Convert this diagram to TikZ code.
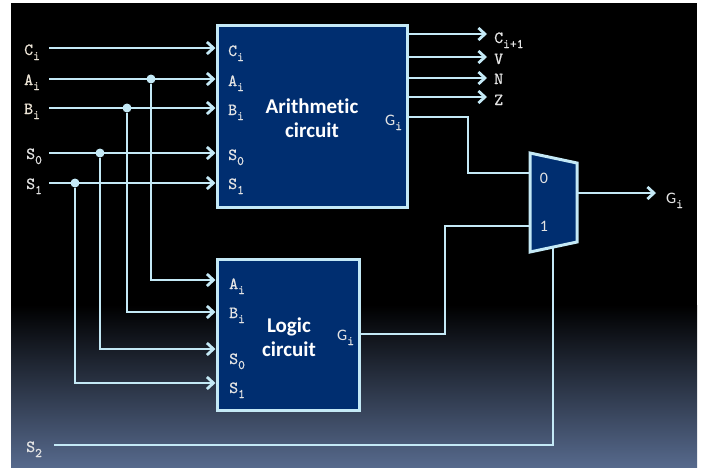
\documentclass[tikz,border=0pt]{standalone}
\usepackage{fontspec}
\newfontfamily\calfont[Ligatures=NoCommon]{Carlito}
\newfontfamily\mymono[Extension=.otf,FakeBold=0.7]{lmmono10-regular}
\usetikzlibrary{arrows.meta}
\definecolor{wirec}{RGB}{196,233,246}
\definecolor{boxfill}{RGB}{0,46,112}
\definecolor{bgbot}{RGB}{86,105,140}
\definecolor{labc}{RGB}{228,228,228}
\definecolor{labw}{RGB}{236,228,214}
\newcommand\sbx[1]{\raisebox{-5pt}{\fontsize{13}{13}\selectfont #1}}
\tikzset{
  wire/.style={draw=wirec, line width=2.8pt, line join=miter},
  arr/.style={wire, -{Straight Barb[length=6.5pt,width=12pt]}},
  blk/.style={draw=wirec, fill=boxfill, line width=3pt, inner sep=0pt},
  lbl/.style={text=labc, inner sep=0pt, font=\fontsize{17}{20}\selectfont\mymono},
  llbl/.style={lbl, text=labw},
  gl/.style={text=labc, inner sep=0pt, font=\fontsize{16}{18}\selectfont\calfont},
  title/.style={text=white, align=center, inner sep=0pt, font=\fontsize{21}{24}\selectfont\calfont\bfseries},
  dot/.style={circle, fill=wirec, inner sep=0pt, minimum size=9pt},
}
\begin{document}
\begin{tikzpicture}[x=1pt,y=-1pt]
\useasboundingbox (0,0) rectangle (703,467);
\fill[white] (0,0) rectangle (703,467);
\fill[black] (11,3) rectangle (697,306);
\shade[top color=black, bottom color=bgbot] (11,305) rectangle (697,467);

% blocks
\node[blk, minimum width=190pt, minimum height=182pt] (arith) at (312,116) {};
\node[blk, minimum width=142pt, minimum height=151pt] (logic) at (288,334.5) {};
\node[title] (atext) at (312,118) {Arithmetic\\circuit};
\node[title] (ltext) at (289,337) {Logic\\circuit};

% mux
\draw[blk] (530,153) -- (577,163) -- (577,242) -- (530,252) -- cycle;
\coordinate (mux0) at (530,173);
\coordinate (mux1) at (530,226);
\coordinate (muxout) at (577,193);
\coordinate (muxsel) at (553,247);
\node[gl, anchor=base] (m0) at (544,183) {0};
\node[gl, anchor=base] (m1) at (544,231) {1};

% left labels
\node[llbl, anchor=base west] (lc) at (24,55) {C\sbx{i}};
\node[llbl, anchor=base west] (la) at (24,85) {A\sbx{i}};
\node[llbl, anchor=base west] (lb) at (24,114) {B\sbx{i}};
\node[lbl, anchor=base west] (ls0) at (26,159) {S\sbx{0}};
\node[lbl, anchor=base west] (ls1) at (26,189) {S\sbx{1}};
\node[lbl, anchor=base west] (ls2) at (26,452) {S\sbx{2}};
\coordinate (sc) at (49,48);
\coordinate (sa) at (49,79);
\coordinate (sb) at (49,108);
\coordinate (ss0) at (49,153);
\coordinate (ss1) at (49,183);
\coordinate (ss2) at (54,445);

% arith inner labels
\node[lbl, anchor=base west] (ac) at (228,56) {C\sbx{i}};
\node[lbl, anchor=base west] (aa) at (228,86) {A\sbx{i}};
\node[lbl, anchor=base west] (ab) at (228,115) {B\sbx{i}};
\node[lbl, anchor=base west] (as0) at (228,160) {S\sbx{0}};
\node[lbl, anchor=base west] (as1) at (228,189) {S\sbx{1}};
\node[gl, anchor=base west] (ag) at (385,125) {G\sbx{\mymono i}};

% logic inner labels
\node[lbl, anchor=base west] (xa) at (229,289) {A\sbx{i}};
\node[lbl, anchor=base west] (xb) at (229,318) {B\sbx{i}};
\node[lbl, anchor=base west] (xs0) at (229,364) {S\sbx{0}};
\node[lbl, anchor=base west] (xs1) at (229,393) {S\sbx{1}};
\node[gl, anchor=base west] (xg) at (337,340) {G\sbx{\mymono i}};

% outputs
\node[lbl, anchor=base west] (oc) at (494,43) {C\sbx{i+1}};
\node[lbl, anchor=base west] (ov) at (494,64) {V};
\node[lbl, anchor=base west] (on) at (494,84) {N};
\node[lbl, anchor=base west] (oz) at (494,105) {Z};
\node[gl, anchor=base west] (og) at (666,203) {G\sbx{\mymono i}};
\coordinate (tc) at (487,34);
\coordinate (tv) at (487,57);
\coordinate (tn) at (487,78);
\coordinate (tz) at (487,97);
\coordinate (tg) at (656,193);

% dots
\node[dot] (da) at (151,79) {};
\node[dot] (db) at (127,108) {};
\node[dot] (ds0) at (100,153) {};
\node[dot] (ds1) at (75,183) {};

% input wires to arithmetic
\draw[arr] (sc) -- (sc -| arith.west);
\draw[arr] (sa) -- (sa -| arith.west);
\draw[arr] (sb) -- (sb -| arith.west);
\draw[arr] (ss0) -- (ss0 -| arith.west);
\draw[arr] (ss1) -- (ss1 -| arith.west);

% branches to logic
\draw[arr] (da) |- (logic.west |- 0,280);
\draw[arr] (db) |- (logic.west |- 0,312);
\draw[arr] (ds0) |- (logic.west |- 0,349);
\draw[arr] (ds1) |- (logic.west |- 0,383);

% arithmetic outputs
\draw[arr] (arith.east |- tc) -- (tc);
\draw[arr] (arith.east |- tv) -- (tv);
\draw[arr] (arith.east |- tn) -- (tn);
\draw[arr] (arith.east |- tz) -- (tz);
\draw[wire] (arith.east |- 0,117) -- (468,117) |- (mux0);
\draw[wire] (logic.east |- 0,334) -- (445,334) |- (mux1);
\draw[arr] (muxout) -- (tg);
\draw[wire] (ss2) -| (muxsel);
\end{tikzpicture}
\end{document}
